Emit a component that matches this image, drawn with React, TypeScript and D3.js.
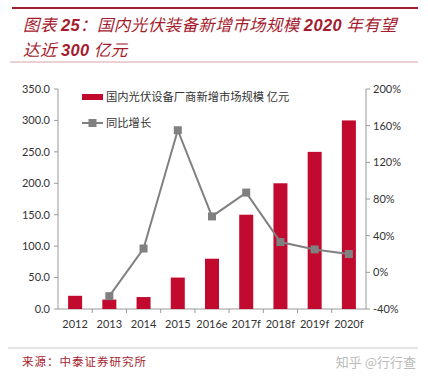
import React from "react";
import * as d3 from "d3";

const categories = ["2012", "2013", "2014", "2015", "2016e", "2017f", "2018f", "2019f", "2020f"];
const marketSize = [21, 15, 19, 50, 80, 150, 200, 250, 300];
const growth = [null, -26, 26, 155, 61, 87, 33, 25, 20];
const leftTicks = [0, 50, 100, 150, 200, 250, 300, 350];
const rightTicks = [-40, 0, 40, 80, 120, 160, 200];

const W = 428, H = 378;
const plot = { left: 58, right: 366, top: 89, bottom: 309 };
const RED = "#c20a2e";
const GRAY = "#808080";
const TITLE_RED = "#a51b2e";
const axisFont = "Lato, 'Liberation Sans', sans-serif";

export default function App() {
  const xb = d3.scaleBand<string>().domain(categories).range([plot.left, plot.right]);
  const yL = d3.scaleLinear().domain([0, 350]).range([plot.bottom, plot.top]);
  const yR = d3.scaleLinear().domain([-40, 200]).range([plot.bottom, plot.top]);
  const pts = categories.map((c, i) => ({ c, v: growth[i] })).filter((d) => d.v !== null) as { c: string; v: number }[];
  const line = d3.line<{ c: string; v: number }>().x((d) => xb(d.c)! + xb.bandwidth() / 2).y((d) => yR(d.v));
  const bw = 14;
  const numFont = "'Liberation Sans', Arial, sans-serif";

  return (
    <svg width={W} height={H} style={{ position: "absolute", left: 0, top: 0, background: "#fff" }}>
      <rect x={0} y={0} width={W} height={H} fill="#fff" />
      {/* header */}
      <line x1={12} x2={418} y1={8} y2={8} stroke={TITLE_RED} strokeWidth={2} />
      <text x={23} y={31} fill={TITLE_RED} fontSize={16.5} fontStyle="italic" letterSpacing={0.4} fontFamily="'Noto Sans CJK SC', sans-serif">
        图表 <tspan fontWeight="bold" fontFamily={numFont}>25</tspan>：国内光伏装备新增市场规模 <tspan fontWeight="bold" fontFamily={numFont}>2020</tspan> 年有望
      </text>
      <text x={23} y={56} fill={TITLE_RED} fontSize={16.5} fontStyle="italic" letterSpacing={0.4} fontFamily="'Noto Sans CJK SC', sans-serif">
        达近 <tspan fontWeight="bold" fontFamily={numFont}>300</tspan> 亿元
      </text>
      <line x1={10} x2={418} y1={62} y2={62} stroke="#d9a0a8" strokeWidth={1} />

      {/* axes */}
      <line x1={plot.left} x2={plot.left} y1={plot.top} y2={plot.bottom} stroke="#999" />
      <line x1={plot.right} x2={plot.right} y1={plot.top} y2={plot.bottom} stroke="#999" />
      <line x1={plot.left} x2={plot.right} y1={plot.bottom} y2={plot.bottom} stroke="#999" />
      {leftTicks.map((t) => (
        <g key={"l" + t}>
          <line x1={plot.left - 4} x2={plot.left} y1={yL(t)} y2={yL(t)} stroke="#999" />
          <text x={plot.left - 8} y={yL(t)} dy="0.35em" textAnchor="end" fontSize={11} fill="#333" fontFamily={axisFont}>
            {t.toFixed(1)}
          </text>
        </g>
      ))}
      {rightTicks.map((t) => (
        <g key={"r" + t}>
          <line x1={plot.right} x2={plot.right + 4} y1={yR(t)} y2={yR(t)} stroke="#999" />
          <text x={plot.right + 7} y={yR(t)} dy="0.35em" textAnchor="start" fontSize={11} fill="#333" fontFamily={axisFont}>
            {t}%
          </text>
        </g>
      ))}
      {categories.map((c, i) => (
        <g key={"x" + c}>
          {i > 0 && <line x1={xb(c)!} x2={xb(c)!} y1={plot.bottom} y2={plot.bottom + 4} stroke="#999" />}
          <text x={xb(c)! + xb.bandwidth() / 2} y={plot.bottom + 19} textAnchor="middle" fontSize={11} fill="#333" fontFamily={axisFont}>
            {c}
          </text>
        </g>
      ))}

      {/* bars */}
      {categories.map((c, i) => (
        <rect key={"b" + c} x={xb(c)! + xb.bandwidth() / 2 - bw / 2} y={yL(marketSize[i])} width={bw} height={yL(0) - yL(marketSize[i])} fill={RED} />
      ))}

      {/* line */}
      <path d={line(pts) || ""} fill="none" stroke={GRAY} strokeWidth={2} />
      {pts.map((d) => (
        <rect key={"m" + d.c} x={xb(d.c)! + xb.bandwidth() / 2 - 4} y={yR(d.v) - 4} width={8} height={8} fill={GRAY} />
      ))}

      {/* legend */}
      <rect x={82} y={94} width={21} height={6} fill={RED} />
      <text x={106} y={97} dy="0.35em" fontSize={11.3} fill="#333" fontFamily="'Noto Sans CJK SC', sans-serif">国内光伏设备厂商新增市场规模 亿元</text>
      <line x1={82} x2={103} y1={123} y2={123} stroke={GRAY} strokeWidth={2} />
      <rect x={88.5} y={119} width={8} height={8} fill={GRAY} />
      <text x={106} y={123} dy="0.35em" fontSize={11.3} fill="#333" fontFamily="'Noto Sans CJK SC', sans-serif">同比增长</text>

      {/* footer */}
      <line x1={8} x2={418} y1={348} y2={348} stroke="#ddd" strokeWidth={1.5} />
      <text x={22} y={366} fontSize={11.5} letterSpacing={1} fill={TITLE_RED} fontFamily="'Noto Sans CJK SC', sans-serif">来源：中泰证券研究所</text>
      <text x={416} y={367} textAnchor="end" fontSize={13} fill="#bbb" fontFamily="'Noto Sans CJK SC', sans-serif">知乎 @行行查</text>
    </svg>
  );
}
